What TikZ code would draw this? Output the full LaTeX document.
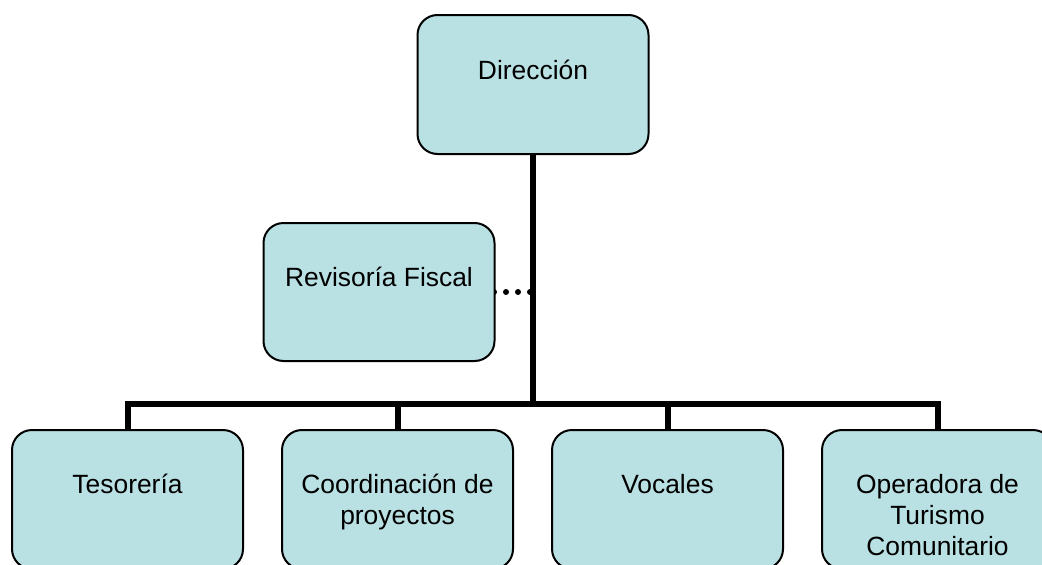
\documentclass[tikz,border=0pt]{standalone}
\usepackage{fontspec}
\setmainfont{Liberation Sans}
\definecolor{boxfill}{RGB}{185,224,227}
\tikzset{
  orgbox/.style={draw=black, line width=1.5pt, fill=boxfill, rounded corners=15pt,
    minimum width=173.25pt, minimum height=104.25pt, inner sep=0pt},
  lbl/.style={anchor=base, inner sep=0pt, font=\fontsize{19.8}{23.25}\selectfont},
  conn/.style={draw=black, line width=4.5pt, line join=miter},
  dotline/.style={draw=black, line width=4.5pt, dash pattern=on 0pt off 9pt, line cap=round}
}
\begin{document}
\begin{tikzpicture}[x=0.75pt,y=-0.75pt]
\useasboundingbox (0,0) rectangle (1042,564);
\fill[white] (0,0) rectangle (1042,564);
\clip (0,0) rectangle (1042,564);
% connectors (behind boxes)
\coordinate (bar) at (533,404);
\coordinate (revE) at (494,292);
% boxes
\node[orgbox] (dir) at (533,84.5) {};
\node[orgbox] (tes) at (127.5,499.5) {};
\node[orgbox] (coo) at (397.5,499.5) {};
\node[orgbox] (voc) at (667.5,499.5) {};
\node[orgbox] (ope) at (937.5,499.5) {};
\draw[conn] (dir.south) -- (bar) -| (tes.north);
\draw[conn] (bar) -| (ope.north);
\draw[conn] (bar) -| (coo.north);
\draw[conn] (bar) -| (voc.north);
\draw[dotline] (revE) -- (revE -| dir.south);
\node[orgbox, minimum height=103.5pt] (rev) at (379,292) {};
% texts
\node[lbl] (dir-t) at (533,79) {Dirección};
\node[lbl] (rev-t) at (379,286) {Revisoría Fiscal};
\node[lbl] (tes-t) at (127.5,493) {Tesorería};
\node[lbl] (coo-t) at (397.5,493) {\begin{tabular}[t]{@{}c@{}}Coordinación de\\proyectos\end{tabular}};
\node[lbl] (voc-t) at (667.5,493) {Vocales};
\node[lbl] (ope-t) at (937.5,493) {\begin{tabular}[t]{@{}c@{}}Operadora de\\Turismo\\Comunitario\end{tabular}};
\end{tikzpicture}
\end{document}
